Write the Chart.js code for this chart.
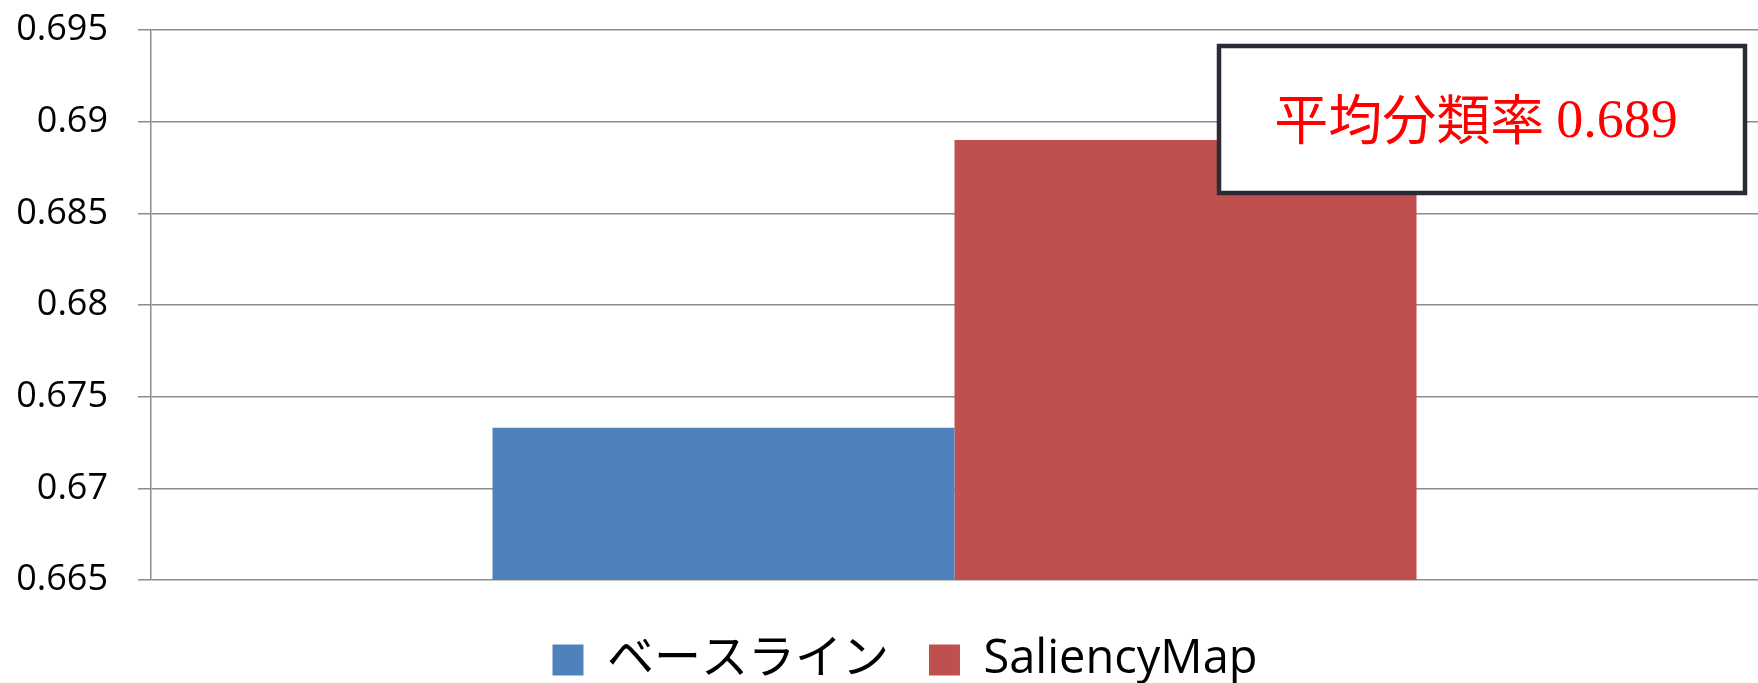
<!DOCTYPE html>
<html>
<head>
<meta charset="utf-8">
<script src="https://cdn.jsdelivr.net/npm/chart.js@4/dist/chart.umd.min.js"></script>
<style>
  html, body { margin: 0; padding: 0; background: #fff; }
  #wrap { width: 1758px; height: 683px; }
</style>
</head>
<body>
<div id="wrap"><canvas id="accChart"></canvas></div>
<script>
// data
const categories = [''];
const seriesNames = ['ベースライン', 'SaliencyMap'];
const baselineValues = [0.6733];
const saliencyValues = [0.689];
const yTicks = [0.665, 0.67, 0.675, 0.68, 0.685, 0.69, 0.695];
const noteLabel = '平均分類率';
const noteValue = '0.689';

const gridGray = '#8c8c8c';

// the boxed note in the top right corner
const notePlugin = {
  id: 'noteBox',
  afterLayout(chart) {
    // legend in the original sits a little right of the canvas centre
    chart.legend.left += 52;
  },
  afterDraw(chart) {
    const ctx = chart.ctx;
    const area = chart.chartArea;
    const w = 526, h = 147;
    const x = area.right - 13 - w;
    const y = area.top + 16;
    ctx.save();
    ctx.fillStyle = '#fff';
    ctx.fillRect(x, y, w, h);
    ctx.lineWidth = 4.5;
    ctx.strokeStyle = '#2b2b35';
    ctx.strokeRect(x, y, w, h);
    ctx.fillStyle = '#ff0000';
    ctx.textBaseline = 'middle';
    ctx.font = '54px "Noto Sans CJK JP"';
    const t1 = noteLabel + ' ';
    const w1 = ctx.measureText(t1).width;
    ctx.font = '54px "Liberation Serif"';
    const w2 = ctx.measureText(noteValue).width;
    let tx = x + w / 2 - (w1 + w2) / 2 - 6;
    ctx.font = '54px "Noto Sans CJK JP"';
    ctx.fillText(t1, tx, y + h / 2);
    ctx.font = '54px "Liberation Serif"';
    ctx.fillText(noteValue, tx + w1, y + h / 2 + 3);
    ctx.restore();
  }
};

new Chart(document.getElementById('accChart'), {
  type: 'bar',
  data: {
    labels: categories,
    datasets: [
      { label: seriesNames[0], data: baselineValues, backgroundColor: '#4f81bd' },
      { label: seriesNames[1], data: saliencyValues, backgroundColor: '#c0504d' }
    ]
  },
  options: {
    responsive: true,
    maintainAspectRatio: false,
    animation: false,
    layout: { padding: { top: 30, right: 0, left: 0, bottom: -10.5 } },
    categoryPercentage: 0.575,
    barPercentage: 1.0,
    plugins: {
      tooltip: { enabled: false },
      legend: {
        position: 'bottom',
        labels: {
          boxWidth: 31,
          boxHeight: 31,
          padding: 40,
          color: '#000',
          font: { family: '"Open Sans", "Noto Sans CJK JP"', size: 47 }
        }
      }
    },
    scales: {
      x: {
        grid: { display: false },
        border: { display: false },
        ticks: { display: false },
        afterFit: s => { s.height = 16.5; }
      },
      y: {
        min: yTicks[0],
        max: yTicks[yTicks.length - 1],
        afterFit: s => { s.width = 151; s.paddingTop = 0; s.paddingBottom = 0; },
        afterBuildTicks: s => { s.ticks = yTicks.map(v => ({ value: v })); },
        grid: { color: gridGray, lineWidth: 1.5, tickLength: 13 },
        border: { color: gridGray, width: 1.5 },
        ticks: {
          padding: 30,
          color: '#000',
          font: { family: '"Open Sans"', size: 36 },
          callback: v => String(+v.toFixed(3))
        }
      }
    }
  },
  plugins: [notePlugin]
});
</script>
</body>
</html>
